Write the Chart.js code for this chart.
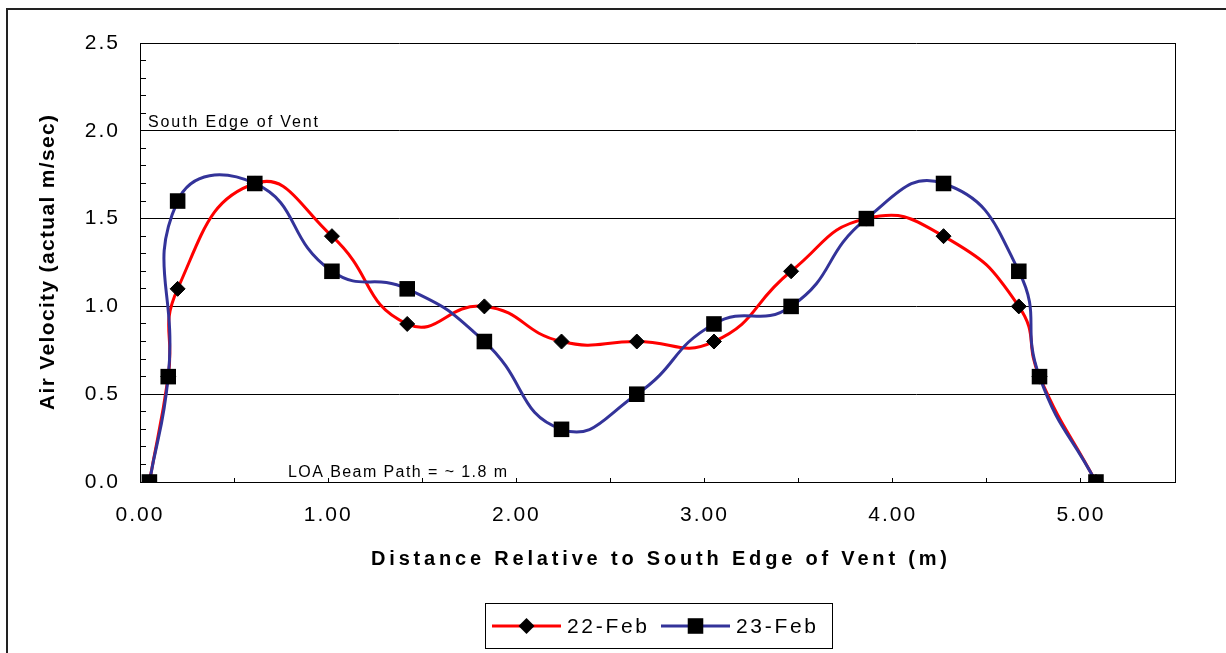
<!DOCTYPE html>
<html>
<head>
<meta charset="utf-8">
<title>Air Velocity</title>
<script src="https://cdn.jsdelivr.net/npm/chart.js@4.4.1/dist/chart.umd.min.js"></script>
<style>
  html, body { margin: 0; padding: 0; background: #fff; }
  #wrap { width: 1226px; height: 653px; }
</style>
</head>
<body>
<div id="wrap"><canvas id="velChart" width="1226" height="653"></canvas></div>
<script>
// ---------- DATA ----------
const distances = [0.05, 0.15, 0.20, 0.61, 1.02, 1.42, 1.83, 2.24, 2.64, 3.05, 3.46, 3.86, 4.27, 4.67, 4.78, 5.08];
const feb22 = [0, 0.6, 1.1, 1.7, 1.4, 0.9, 1.0, 0.8, 0.8, 0.8, 1.2, 1.5, 1.4, 1.0, 0.6, 0];
const feb23 = [0, 0.6, 1.6, 1.7, 1.2, 1.1, 0.8, 0.3, 0.5, 0.9, 1.0, 1.5, 1.7, 1.2, 0.6, 0];
const seriesNames = ["22-Feb", "23-Feb"];

const xMin = 0, xMax = 5.5, xStep = 0.5;
const yMin = 0, yMax = 2.5, yStep = 0.1;

const xTitle = "Distance Relative to South Edge of Vent (m)";
const yTitle = "Air Velocity (actual m/sec)";
const noteTop = "South Edge of Vent";
const noteBottom = "LOA Beam Path = ~ 1.8 m";

// ---------- SETTINGS ----------
const FONT = "Arial, 'Liberation Sans', sans-serif";
const RED = "#ff0000";
const BLUE = "#333399";

function toPoints(xs, ys) {
  return xs.map((x, i) => ({ x: x, y: ys[i] }));
}

function isHalf(v) {
  return Math.abs(v * 2 - Math.round(v * 2)) < 1e-6;
}

function isWhole(v) {
  return Math.abs(v - Math.round(v)) < 1e-6;
}

// draw text stretched to a given width (Excel-like spacing)
function spacedText(ctx, text, x, y, font, width) {
  ctx.font = font;
  ctx.letterSpacing = "0px";
  const w = ctx.measureText(text).width;
  const sp = (width - w) / (text.length - 1);
  ctx.letterSpacing = sp + "px";
  ctx.textAlign = "left";
  ctx.fillText(text, x, y);
  ctx.letterSpacing = "0px";
}

function marker(ctx, style, x, y, r) {
  ctx.fillStyle = "#000";
  ctx.beginPath();
  if (style === "rect") {
    const s = r * Math.SQRT1_2;
    ctx.rect(x - s, y - s, s * 2, s * 2);
  } else {
    ctx.moveTo(x - r, y);
    ctx.lineTo(x, y - r);
    ctx.lineTo(x + r, y);
    ctx.lineTo(x, y + r);
    ctx.closePath();
  }
  ctx.fill();
}

// ---------- DECORATION PLUGIN ----------
const decor = {
  id: "decor",
  beforeDraw(chart) {
    const ctx = chart.ctx;
    // outer chart border (cropped at right and bottom)
    ctx.save();
    ctx.strokeStyle = "#222";
    ctx.lineWidth = 2;
    ctx.strokeRect(7, 9, 1400, 800);
    ctx.restore();
    // tick labels get Excel-like spacing
    ctx.letterSpacing = "2px";
  },
  beforeDatasetsDraw(chart) {
    const ctx = chart.ctx;
    ctx.letterSpacing = "0px";
    const a = chart.chartArea;
    ctx.save();
    ctx.strokeStyle = "#000";
    ctx.lineWidth = 1;
    ctx.beginPath();
    ctx.moveTo(Math.round(a.right) + 0.5, a.top);
    ctx.lineTo(Math.round(a.right) + 0.5, a.bottom);
    ctx.stroke();

    // notes inside the plot
    ctx.fillStyle = "#000";
    ctx.textBaseline = "alphabetic";
    spacedText(ctx, noteTop, 148, 127, "16px " + FONT, 170);
    spacedText(ctx, noteBottom, 288, 477, "16px " + FONT, 219);
    ctx.restore();
  },
  afterDraw(chart) {
    const ctx = chart.ctx;
    ctx.save();
    ctx.fillStyle = "#000";
    ctx.textBaseline = "middle";

    // x title
    spacedText(ctx, xTitle, 371, 559, "bold 20px " + FONT, 576);

    // y title
    ctx.save();
    ctx.translate(48, 410);
    ctx.rotate(-Math.PI / 2);
    spacedText(ctx, yTitle, 0, 0, "bold 21px " + FONT, 295);
    ctx.restore();

    // legend
    ctx.fillStyle = "#fff";
    ctx.fillRect(485, 603, 347, 45);
    ctx.strokeStyle = "#000";
    ctx.lineWidth = 1;
    ctx.strokeRect(485.5, 603.5, 347, 45);

    const ly = 626;
    let lx = 492;
    chart.data.datasets.forEach((ds) => {
      ctx.strokeStyle = ds.borderColor;
      ctx.lineWidth = 3;
      ctx.beginPath();
      ctx.moveTo(lx, ly);
      ctx.lineTo(lx + 69, ly);
      ctx.stroke();
      marker(ctx, ds.pointStyle, lx + 34.5, ly, ds.pointStyle === "rect" ? 11 : 8);
      ctx.fillStyle = "#000";
      spacedText(ctx, ds.label, lx + 75, ly + 1, "21px " + FONT, 80);
      lx += 169;
    });
    ctx.restore();
  },
};

// ---------- CREATE CHART ----------
const chartCanvas = document.getElementById("velChart");
const ctx = chartCanvas.getContext("2d");

const velChart = new Chart(ctx, {
  type: "scatter",
  data: {
    datasets: [
      {
        label: seriesNames[0],
        data: toPoints(distances, feb22),
        showLine: true,
        borderColor: RED,
        backgroundColor: "#000",
        borderWidth: 3,
        tension: 0.5,
        pointStyle: "rectRot",
        pointRadius: 7.5,
        pointBorderColor: "#000",
        pointBackgroundColor: "#000",
        pointBorderWidth: 1,
        order: 2,
      },
      {
        label: seriesNames[1],
        data: toPoints(distances, feb23),
        showLine: true,
        borderColor: BLUE,
        backgroundColor: "#000",
        borderWidth: 3,
        tension: 0.5,
        pointStyle: "rect",
        pointRadius: 11,
        pointBorderColor: "#000",
        pointBackgroundColor: "#000",
        pointBorderWidth: 0,
        order: 1,
      },
    ],
  },

  options: {
    responsive: false,
    animation: false,
    devicePixelRatio: 1,
    layout: {
      padding: { top: 43, right: 51, bottom: 0, left: 0 },
    },

    scales: {
      x: {
        type: "linear",
        min: xMin,
        max: xMax,
        afterFit(scale) {
          scale.height = 171;
        },
        ticks: {
          stepSize: xStep,
          autoSkip: false,
          maxRotation: 0,
          padding: 25,
          color: "#000",
          font: { family: FONT, size: 21 },
          callback: (v) => (isWhole(v) ? v.toFixed(2) : ""),
        },
        grid: {
          drawOnChartArea: false,
          drawTicks: true,
          tickLength: -4,
          tickColor: "#000",
        },
        border: { display: true, color: "#000", width: 1 },
      },

      y: {
        type: "linear",
        min: yMin,
        max: yMax,
        afterFit(scale) {
          scale.width = 140;
        },
        ticks: {
          stepSize: yStep,
          autoSkip: false,
          padding: 26,
          color: "#000",
          font: { family: FONT, size: 21 },
          callback: (v) => (isHalf(v) ? v.toFixed(1) : ""),
        },
        grid: {
          color: (c) => (isHalf(c.tick.value) ? "#000" : "rgba(0,0,0,0)"),
          tickColor: "#000",
          tickLength: -6,
          lineWidth: 1,
        },
        border: { display: true, color: "#000", width: 1 },
      },
    },

    plugins: {
      legend: { display: false },
      tooltip: { enabled: false },
    },
  },
  plugins: [decor],
});
</script>
</body>
</html>
